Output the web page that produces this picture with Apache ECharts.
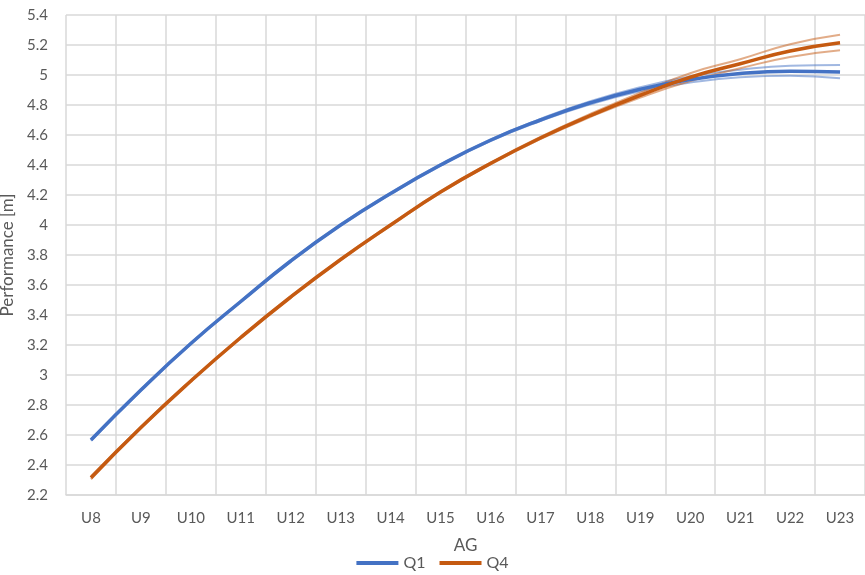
<!DOCTYPE html>
<html>
<head>
<meta charset="utf-8">
<script src="https://cdn.jsdelivr.net/npm/echarts@6/dist/echarts.min.js"></script>
<style>html,body{margin:0;padding:0;background:#fff}#c{width:865px;height:575px}</style>
</head>
<body>
<div id="c"></div>
<script>
var categories = ['U8','U9','U10','U11','U12','U13','U14','U15','U16','U17','U18','U19','U20','U21','U22','U23'];
var q1 =      [2.567,2.90,3.21,3.49,3.76,4.00,4.21,4.40,4.565,4.70,4.815,4.905,4.97,5.01,5.025,5.02];
var q1Upper = [2.572,2.905,3.215,3.495,3.765,4.005,4.215,4.405,4.57,4.707,4.825,4.918,4.99,5.035,5.062,5.067];
var q1Lower = [2.562,2.895,3.205,3.485,3.755,3.995,4.205,4.395,4.56,4.693,4.805,4.892,4.95,4.985,4.995,4.978];
var q4 =      [2.315,2.65,2.96,3.25,3.52,3.77,4.00,4.22,4.41,4.58,4.73,4.865,4.985,5.075,5.16,5.215];
var q4Upper = [2.325,2.655,2.965,3.255,3.525,3.775,4.005,4.225,4.415,4.587,4.74,4.882,5.012,5.105,5.205,5.268];
var q4Lower = [2.305,2.645,2.955,3.245,3.515,3.765,3.995,4.215,4.405,4.573,4.72,4.85,4.96,5.045,5.12,5.165];
var yTicks = {min: 2.2, max: 5.4, step: 0.2};

var blue = '#4472C4', orange = '#C55A11';
var font = 'Lato, "Liberation Sans", sans-serif';
function band(name, data, color) {
  return {name: name, type: 'line', data: data, smooth: true, symbol: 'none',
    lineStyle: {color: color, width: 2, opacity: 0.5}, itemStyle: {color: color}, z: 1, silent: true};
}
var chart = echarts.init(document.getElementById('c'));
chart.setOption({
  animation: false,
  backgroundColor: '#fff',
  grid: {left: 66, right: 0, top: 15, bottom: 80, containLabel: false, outerBoundsMode: 'none'},
  legend: {
    data: ['Q1','Q4'], bottom: -1, left: 'center', icon: 'rect', itemWidth: 42, itemHeight: 4, itemGap: 14,
    textStyle: {color: '#595959', fontSize: 16, fontFamily: font}
  },
  xAxis: {
    type: 'category', data: categories, boundaryGap: true,
    name: 'AG', nameLocation: 'middle', nameGap: 42,
    nameTextStyle: {color: '#595959', fontSize: 17, fontFamily: font},
    axisLine: {show: true, lineStyle: {color: '#d9d9d9', width: 1.5}},
    axisTick: {show: false},
    axisLabel: {color: '#595959', fontSize: 15, fontFamily: font, margin: 16},
    splitLine: {show: true, lineStyle: {color: '#d9d9d9', width: 1.5}}
  },
  yAxis: {
    type: 'value', min: yTicks.min, max: yTicks.max, interval: yTicks.step,
    name: 'Performance [m]', nameLocation: 'middle', nameGap: 48,
    nameTextStyle: {color: '#595959', fontSize: 17, fontFamily: font},
    axisLine: {show: false}, axisTick: {show: false},
    axisLabel: {color: '#595959', fontSize: 15, fontFamily: font, margin: 18,
      formatter: function (v) { return String(parseFloat(v.toFixed(1))); }},
    splitLine: {show: true, lineStyle: {color: '#d9d9d9', width: 1.5}}
  },
  series: [
    band('Q1 upper', q1Upper, blue),
    band('Q1 lower', q1Lower, blue),
    band('Q4 upper', q4Upper, orange),
    band('Q4 lower', q4Lower, orange),
    {name: 'Q1', type: 'line', data: q1, smooth: true, symbol: 'none',
      lineStyle: {color: blue, width: 3.5}, itemStyle: {color: blue}, z: 3},
    {name: 'Q4', type: 'line', data: q4, smooth: true, symbol: 'none',
      lineStyle: {color: orange, width: 3.5}, itemStyle: {color: orange}, z: 3}
  ]
});
</script>
</body>
</html>
